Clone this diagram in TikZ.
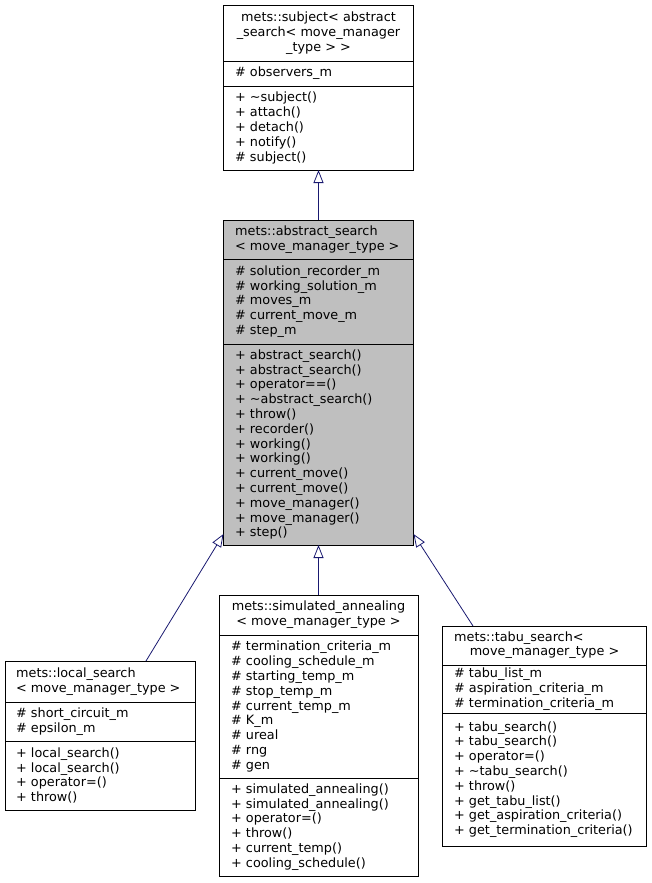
\documentclass[tikz,border=0pt]{standalone}
\usepackage{fontspec}
\setmainfont{DejaVu Sans}
\usetikzlibrary{arrows.meta}
\definecolor{edgeblue}{HTML}{191970}
\definecolor{hilite}{HTML}{BFBFBF}
\begin{document}
\begin{tikzpicture}[x=1pt,y=-1pt,
  cls/.style={draw=black, line width=0.8pt, inner sep=0pt, outer sep=0pt, anchor=north west},
  sepline/.style={draw=black, line width=0.8pt},
  txt/.style={inner sep=0pt, font=\fontsize{12.8}{14.8}\selectfont},
  ltxt/.style={txt, align=left, anchor=west},
  ctxt/.style={txt, align=center, anchor=center},
  inh/.style={draw=edgeblue, line width=0.8pt, -{Triangle[open, length=13pt, width=10pt, line width=0.8pt]}}
]
\useasboundingbox (0,0) rectangle (651,883);

% ---------- mets::subject ----------
\node[cls, minimum width=190pt, minimum height=165pt] (subj) at (223.5,5) {};
\draw[sepline] (223.5,61) -- (413.5,61);
\draw[sepline] (223.5,86) -- (413.5,86);
\node[ctxt] (subjT) at (318.5,33) {mets::subject< abstract \\ \_search< move\_manager\\ \_type > >};
\node[ltxt] (subjA) at (235,73.5) {\# observers\_m};
\node[ltxt] (subjM) at (235,128) {+ \textasciitilde subject()\\ + attach()\\ + detach()\\ + notify()\\ \# subject()};

% ---------- mets::abstract_search ----------
\node[cls, fill=hilite, minimum width=190pt, minimum height=325pt] (abs) at (223.5,220) {};
\draw[sepline] (223.5,259) -- (413.5,259);
\draw[sepline] (223.5,344) -- (413.5,344);
\node[ltxt] (absT) at (235,239.5) {mets::abstract\_search\\ < move\_manager\_type >};
\node[ltxt] (absA) at (235,301.5) {\# solution\_recorder\_m\\ \# working\_solution\_m\\ \# moves\_m\\ \# current\_move\_m\\ \# step\_m};
\node[ltxt] (absM) at (235,444.5) {+ abstract\_search()\\ + abstract\_search()\\ + operator==()\\ + \textasciitilde abstract\_search()\\ + throw()\\ + recorder()\\ + working()\\ + working()\\ + current\_move()\\ + current\_move()\\ + move\_manager()\\ + move\_manager()\\ + step()};

% ---------- mets::local_search ----------
\node[cls, minimum width=190pt, minimum height=149pt] (loc) at (5,661) {};
\draw[sepline] (5,702) -- (195,702);
\draw[sepline] (5,741) -- (195,741);
\node[ltxt] (locT) at (16,681.5) {mets::local\_search\\ < move\_manager\_type >};
\node[ltxt] (locA) at (16,721.5) {\# short\_circuit\_m\\ \# epsilon\_m};
\node[ltxt] (locM) at (16,775.5) {+ local\_search()\\ + local\_search()\\ + operator=()\\ + throw()};

% ---------- mets::simulated_annealing ----------
\node[cls, minimum width=199pt, minimum height=281pt] (sim) at (219,595) {};
\draw[sepline] (219,635) -- (418,635);
\draw[sepline] (219,778) -- (418,778);
\node[ctxt] (simT) at (318.5,615) {mets::simulated\_annealing\\ < move\_manager\_type >};
\node[ltxt] (simA) at (231,706.5) {\# termination\_criteria\_m\\ \# cooling\_schedule\_m\\ \# starting\_temp\_m\\ \# stop\_temp\_m\\ \# current\_temp\_m\\ \# K\_m\\ \# ureal\\ \# rng\\ \# gen};
\node[ltxt] (simM) at (231,827) {+ simulated\_annealing()\\ + simulated\_annealing()\\ + operator=()\\ + throw()\\ + current\_temp()\\ + cooling\_schedule()};

% ---------- mets::tabu_search ----------
\node[cls, minimum width=204pt, minimum height=220pt] (tabu) at (442,626) {};
\draw[sepline] (442,665) -- (646,665);
\draw[sepline] (442,713) -- (646,713);
\node[txt, anchor=west] (tabuT1) at (454,638) {mets::tabu\_search<};
\node[txt, anchor=center] (tabuT2) at (544.5,652.5) {move\_manager\_type >};
\node[ltxt] (tabuA) at (454,689) {\# tabu\_list\_m\\ \# aspiration\_criteria\_m\\ \# termination\_criteria\_m};
\node[ltxt] (tabuM) at (454,779.5) {+ tabu\_search()\\ + tabu\_search()\\ + operator=()\\ + \textasciitilde tabu\_search()\\ + throw()\\ + get\_tabu\_list()\\ + get\_aspiration\_criteria()\\ + get\_termination\_criteria()};

% ---------- inheritance connectors ----------
\coordinate (locTop) at (146,661);
\coordinate (absTipL) at (223.5,534);
\coordinate (tabuTop) at (473,626);
\coordinate (absTipR) at (413.5,534);
\draw[inh] (abs.north) -- (subj.south);
\draw[inh] (locTop) -- (absTipL);
\draw[inh] (sim.north) -- (abs.south);
\draw[inh] (tabuTop) -- (absTipR);
\end{tikzpicture}
\end{document}
